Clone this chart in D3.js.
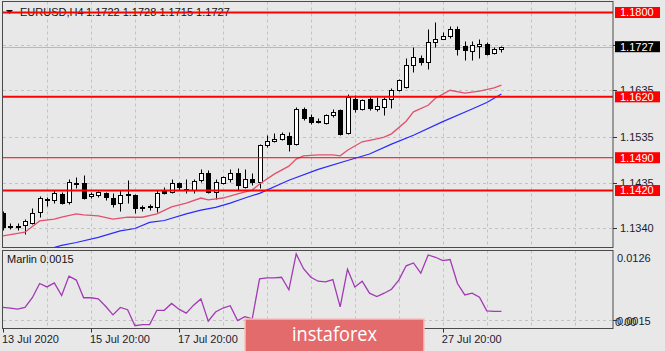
<!DOCTYPE html>
<html>
<head>
<meta charset="utf-8">
<script src="https://cdn.jsdelivr.net/npm/d3@7"></script>
<style>
  body { margin: 0; background: #e8e8e8; }
  svg { display: block; font-family: "Liberation Sans", Arial, sans-serif; }
</style>
</head>
<body>
<div id="root"></div>
<script>
const width = 665,
      height = 351

// EURUSD H4 candles
const opens = [1.1372, 1.1344, 1.1343, 1.1346, 1.1351, 1.1374, 1.1400, 1.1400, 1.1413, 1.1395,
  1.1436, 1.1437, 1.1409, 1.1410, 1.1415, 1.1405, 1.1394, 1.1411, 1.1411, 1.1384,
  1.1385, 1.1385, 1.1421, 1.1417, 1.1435, 1.1422, 1.1422, 1.1442, 1.1458, 1.1417,
  1.1437, 1.1444, 1.1458, 1.1428, 1.1445, 1.1439, 1.1518, 1.1525, 1.1529, 1.1536,
  1.1519, 1.1595, 1.1577, 1.1568, 1.1564, 1.1581, 1.1591, 1.1542, 1.1616, 1.1595,
  1.1616, 1.1593, 1.1598, 1.1616, 1.1634, 1.1641, 1.1687, 1.1703, 1.1694, 1.1738,
  1.1744, 1.1750, 1.1765, 1.1728, 1.1717, 1.1728, 1.1733, 1.1714, 1.1722]
const highs = [1.1376, 1.1351, 1.1351, 1.1359, 1.1383, 1.1408, 1.1406, 1.1422, 1.1417, 1.1445,
  1.1448, 1.1453, 1.1416, 1.1419, 1.1417, 1.1415, 1.1422, 1.1442, 1.1413, 1.1389,
  1.1391, 1.1421, 1.1428, 1.1444, 1.1439, 1.1444, 1.1444, 1.1467, 1.1464, 1.1444,
  1.1451, 1.1465, 1.1469, 1.1467, 1.1457, 1.1520, 1.1538, 1.1542, 1.1545, 1.1545,
  1.1598, 1.1598, 1.1584, 1.1574, 1.1584, 1.1595, 1.1595, 1.1627, 1.1623, 1.1616,
  1.1621, 1.1620, 1.1620, 1.1638, 1.1659, 1.1703, 1.1726, 1.1709, 1.1764, 1.1779,
  1.1758, 1.1771, 1.1772, 1.1740, 1.1740, 1.1743, 1.1736, 1.1726, 1.1728]
const lows = [1.1336, 1.1338, 1.1336, 1.1327, 1.1349, 1.1363, 1.1387, 1.1393, 1.1392, 1.1391,
  1.1426, 1.1402, 1.1404, 1.1406, 1.1400, 1.1385, 1.1377, 1.1393, 1.1372, 1.1376,
  1.1378, 1.1375, 1.1412, 1.1415, 1.1422, 1.1414, 1.1414, 1.1439, 1.1415, 1.1401,
  1.1434, 1.1439, 1.1422, 1.1425, 1.1432, 1.1425, 1.1513, 1.1524, 1.1527, 1.1505,
  1.1517, 1.1570, 1.1562, 1.1564, 1.1563, 1.1577, 1.1538, 1.1540, 1.1588, 1.1591,
  1.1591, 1.1589, 1.1581, 1.1596, 1.1632, 1.1638, 1.1673, 1.1689, 1.1680, 1.1727,
  1.1743, 1.1746, 1.1710, 1.1698, 1.1698, 1.1703, 1.1710, 1.1712, 1.1715]
const closes = [1.1342, 1.1345, 1.1344, 1.1354, 1.1372, 1.1404, 1.1402, 1.1414, 1.1394, 1.1438,
  1.1437, 1.1405, 1.1413, 1.1416, 1.1406, 1.1392, 1.1410, 1.1412, 1.1383, 1.1385,
  1.1386, 1.1414, 1.1415, 1.1435, 1.1427, 1.1423, 1.1441, 1.1458, 1.1417, 1.1439,
  1.1448, 1.1457, 1.1432, 1.1444, 1.1439, 1.1517, 1.1525, 1.1531, 1.1540, 1.1519,
  1.1595, 1.1574, 1.1566, 1.1569, 1.1581, 1.1588, 1.1540, 1.1620, 1.1595, 1.1613,
  1.1596, 1.1600, 1.1616, 1.1634, 1.1655, 1.1687, 1.1705, 1.1694, 1.1738, 1.1744,
  1.1750, 1.1765, 1.1723, 1.1719, 1.1731, 1.1733, 1.1712, 1.1723, 1.1727]

// moving averages as [bar, price]
const maFast = [[0, 1.1323], [3, 1.1331], [5, 1.1355], [7, 1.1359], [8, 1.1363], [10, 1.1370], [11, 1.1368],
  [13, 1.1366], [15, 1.1359], [17, 1.1363], [19, 1.1363], [21, 1.1370], [23, 1.1385], [25, 1.1393],
  [27, 1.1404], [28, 1.1400], [30, 1.1404], [32, 1.1413], [34, 1.1421], [35, 1.1434], [37, 1.1455],
  [39, 1.1472], [40, 1.1487], [41, 1.1494], [43, 1.1496], [45, 1.1496], [46, 1.1494], [47, 1.1506],
  [48, 1.1515], [49, 1.1524], [51, 1.1530], [52, 1.1534], [53, 1.1541], [55, 1.1568], [56, 1.1588],
  [58, 1.1602], [59, 1.1617], [61, 1.1634], [63, 1.1628], [65, 1.1632], [67, 1.1639], [68, 1.1645]]
const maSlow = [[6, 1.1294], [8, 1.1303], [10, 1.1309], [13, 1.1320], [16, 1.1334], [18, 1.1339],
  [20, 1.1352], [22, 1.1356], [25, 1.1370], [27, 1.1378], [29, 1.1384], [31, 1.1393], [33, 1.1404],
  [35, 1.1414], [39, 1.1442], [43, 1.1465], [47, 1.1484], [50, 1.1498], [53, 1.1519], [56, 1.1538],
  [60, 1.1567], [64, 1.1594], [66, 1.1608], [68, 1.1626]]

const marlin = [0.0037, 0.0036, 0.0034, 0.0037, 0.0054, 0.0079, 0.0073, 0.0080, 0.0058, 0.0092,
  0.0085, 0.0054, 0.0054, 0.0052, 0.0039, 0.0024, 0.0037, 0.0033, 0.0005, 0.0007,
  0.0007, 0.0032, 0.0032, 0.0044, 0.0034, 0.0027, 0.0041, 0.0052, 0.0013, 0.0029,
  0.0036, 0.0040, 0.0014, 0.0021, 0.0017, 0.0087, 0.0089, 0.0089, 0.0090, 0.0068,
  0.0131, 0.0105, 0.0090, 0.0083, 0.0082, 0.0086, 0.0038, 0.0104, 0.0073, 0.0083,
  0.0062, 0.0056, 0.0062, 0.0069, 0.0085, 0.0110, 0.0115, 0.0097, 0.0129, 0.0125,
  0.0119, 0.0121, 0.0079, 0.0059, 0.0062, 0.0055, 0.0031, 0.0030, 0.0030]

const levels = [1.1800, 1.1620, 1.1490, 1.1420]
const levelWidth = [2, 2, 1, 2]
const priceTicks = [1.1340, 1.1435, 1.1535, 1.1635, 1.1730]
const lastPrice = 1.1727
const marlinTicks = [0.0126, 0.0015]
const timeIdx = [0, 12, 24, 60]
const timeLabels = ['13 Jul 2020', '15 Jul 20:00', '17 Jul 20:00', '27 Jul 20:00']

const left = 3, right = 613
const mainTop = 1.5, mainBottom = 247.5
const subTop = 250.5, subBottom = 328.5

const x = d3.scaleLinear().domain([0, 80]).range([3, 3 + 80 * 7.33])
const y = d3.scaleLinear().domain([1.1340, 1.1800]).range([228, 12.5])
const ym = d3.scaleLinear().domain([0.0015, 0.0126]).range([320, 256.7])

const svg = d3.select('#root')
  .append('svg')
  .attr('width', width)
  .attr('height', height)

svg.append('rect').attr('width', width).attr('height', height).attr('fill', '#e8e8e8')

const defs = svg.append('defs')
defs.append('clipPath').attr('id', 'clipMain')
  .append('rect').attr('x', left).attr('y', mainTop + 0.5).attr('width', right - left).attr('height', mainBottom - mainTop - 1)
defs.append('clipPath').attr('id', 'clipSub')
  .append('rect').attr('x', left).attr('y', subTop + 0.5).attr('width', right - left).attr('height', subBottom - subTop - 1)

const gridX = d3.range(6, 84, 6).map(i => Math.round(x(i)) + 0.5).filter(v => v < right)

// grid
const grid = svg.append('g').attr('stroke', '#c2c2c2').attr('stroke-dasharray', '3,3')
grid.selectAll('.gx').data(gridX).enter().append('line')
  .attr('x1', d => d).attr('x2', d => d).attr('y1', mainTop).attr('y2', mainBottom)
grid.selectAll('.gxs').data(gridX).enter().append('line')
  .attr('x1', d => d).attr('x2', d => d).attr('y1', subTop).attr('y2', subBottom)
grid.selectAll('.gy').data(priceTicks).enter().append('line')
  .attr('x1', left).attr('x2', right)
  .attr('y1', d => Math.round(y(d)) + 0.5).attr('y2', d => Math.round(y(d)) + 0.5)
grid.append('line').attr('x1', left).attr('x2', right)
  .attr('y1', Math.round(ym(0.0015)) + 0.5).attr('y2', Math.round(ym(0.0015)) + 0.5)

// title
svg.append('path').attr('d', 'M6,10 L13,10 L9.5,14 Z').attr('fill', '#111')
svg.append('text').attr('x', 20).attr('y', 16).attr('font-size', 11).attr('fill', '#111').text('EURUSD,H4')
svg.append('text').attr('x', 86).attr('y', 16).attr('font-size', 11).attr('fill', '#111').text('1.1722 1.1728 1.1715 1.1727')

const main = svg.append('g').attr('clip-path', 'url(#clipMain)')

// current price line
main.append('line').attr('x1', left).attr('x2', right)
  .attr('y1', Math.round(y(lastPrice)) + 0.5).attr('y2', Math.round(y(lastPrice)) + 0.5)
  .attr('stroke', '#b8b8b8')

// candles
const bars = d3.range(opens.length)
const candle = main.append('g').selectAll('g').data(bars).enter().append('g')
candle.append('line')
  .attr('x1', i => Math.round(x(i)) + 0.5).attr('x2', i => Math.round(x(i)) + 0.5)
  .attr('y1', i => Math.round(y(highs[i])) + 0.5).attr('y2', i => Math.round(y(lows[i])) + 0.5)
  .attr('stroke', '#000')
candle.append('rect')
  .attr('x', i => Math.round(x(i)) - 1.5)
  .attr('width', 4)
  .attr('y', i => Math.round(y(Math.max(opens[i], closes[i]))) + 0.5)
  .attr('height', i => Math.max(1, Math.round(y(Math.min(opens[i], closes[i]))) - Math.round(y(Math.max(opens[i], closes[i])))))
  .attr('fill', i => closes[i] >= opens[i] ? '#fff' : '#000')
  .attr('stroke', '#000')

// moving averages
const maLine = d3.line().x(d => x(d[0])).y(d => y(d[1]))
main.append('path').datum(maFast).attr('d', maLine).attr('fill', 'none').attr('stroke', '#e2506e').attr('stroke-width', 1.3)
main.append('path').datum(maSlow).attr('d', maLine).attr('fill', 'none').attr('stroke', '#2a2aff').attr('stroke-width', 1.2)

// horizontal levels
main.selectAll('.lvl').data(levels).enter().append('line')
  .attr('x1', left).attr('x2', right)
  .attr('y1', d => y(d)).attr('y2', d => y(d))
  .attr('stroke', '#ff0000').attr('stroke-width', (d, i) => levelWidth[i])

// marlin
const sub = svg.append('g').attr('clip-path', 'url(#clipSub)')
sub.append('path').datum(marlin)
  .attr('d', d3.line().x((d, i) => x(i)).y(d => ym(d)))
  .attr('fill', 'none').attr('stroke', '#a23ab4').attr('stroke-width', 1.3)

svg.append('text').attr('x', 7).attr('y', 263).attr('font-size', 11).attr('fill', '#111').text('Marlin 0.0015')

// frames
svg.append('rect').attr('x', 2.5).attr('y', mainTop).attr('width', right - 2.5).attr('height', mainBottom - mainTop)
  .attr('fill', 'none').attr('stroke', '#4a4a4a')
svg.append('rect').attr('x', 2.5).attr('y', subTop).attr('width', right - 2.5).attr('height', subBottom - subTop)
  .attr('fill', 'none').attr('stroke', '#4a4a4a')

// price axis
const axisColor = '#1b1b30'
const pa = svg.append('g').attr('font-size', 11)
pa.selectAll('.pt').data(priceTicks).enter().append('line')
  .attr('x1', right).attr('x2', right + 4)
  .attr('y1', d => Math.round(y(d)) + 0.5).attr('y2', d => Math.round(y(d)) + 0.5)
  .attr('stroke', '#333')
pa.selectAll('.pl').data(priceTicks).enter().append('text')
  .attr('x', 620).attr('y', d => y(d)).attr('dy', '0.36em')
  .attr('fill', axisColor).text(d => d.toFixed(4))

const boxes = levels.map(d => ({ v: d, c: '#ff0000' })).concat([{ v: lastPrice, c: '#000' }])
const box = pa.selectAll('.bx').data(boxes).enter().append('g')
box.append('rect')
  .attr('x', 615).attr('width', 45)
  .attr('y', d => y(d.v) - 5.5).attr('height', 11)
  .attr('fill', d => d.c)
box.append('text')
  .attr('x', 620).attr('y', d => y(d.v)).attr('dy', '0.36em')
  .attr('fill', '#fff').text(d => d.v.toFixed(4))

pa.selectAll('.mt').data(marlinTicks).enter().append('text')
  .attr('x', 617).attr('y', d => ym(d) + 1).attr('dy', '0.36em')
  .attr('fill', axisColor).text(d => d.toFixed(4))
pa.append('text').attr('x', 615).attr('y', ym(0.0015) + 2).attr('dy', '0.36em')
  .attr('fill', axisColor).text('0.00')
pa.append('line').attr('x1', right).attr('x2', right + 4)
  .attr('y1', Math.round(ym(0.0015)) + 0.5).attr('y2', Math.round(ym(0.0015)) + 0.5).attr('stroke', '#333')

// time axis
const ta = svg.append('g').attr('font-size', 11)
ta.selectAll('line').data(timeIdx).enter().append('line')
  .attr('x1', d => Math.round(x(d)) + 0.5).attr('x2', d => Math.round(x(d)) + 0.5)
  .attr('y1', subBottom).attr('y2', subBottom + 4)
  .attr('stroke', '#333')
ta.selectAll('text').data(timeIdx).enter().append('text')
  .attr('x', d => x(d) - 1).attr('y', 343)
  .attr('fill', axisColor)
  .text((d, i) => timeLabels[i])

// watermark
svg.append('rect').attr('x', 245).attr('y', 319).attr('width', 179).attr('height', 40)
  .attr('fill', '#e46b6b').attr('stroke', '#f4c2c2').attr('stroke-width', 1.5)
svg.append('text').attr('x', 334.5).attr('y', 340.5).attr('text-anchor', 'middle')
  .attr('font-family', '"Open Sans", sans-serif').attr('font-size', 20)
  .attr('textLength', 85).attr('lengthAdjust', 'spacingAndGlyphs')
  .attr('fill', '#fff').text('instaforex')
</script>
</body>
</html>
